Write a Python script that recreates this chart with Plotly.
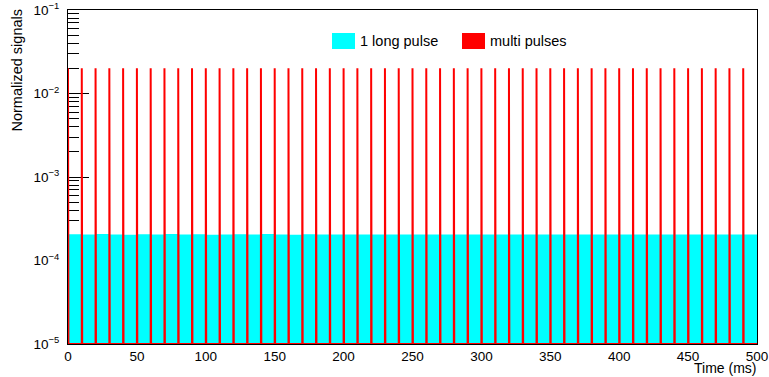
import plotly.graph_objects as go

# ---- data ----
# one long pulse: normalized signal level per 10 ms segment (0..500 ms)
long_edges = list(range(0, 510, 10))
long_values = [2.06e-4, 2.05e-4, 2.07e-4, 2.05e-4, 2.04e-4, 2.06e-4, 2.05e-4, 2.07e-4, 2.05e-4, 2.06e-4,
               2.04e-4, 2.05e-4, 2.06e-4, 2.05e-4, 2.07e-4, 2.05e-4, 2.04e-4, 2.06e-4, 2.05e-4, 2.05e-4,
               2.06e-4, 2.04e-4, 2.05e-4, 2.07e-4, 2.05e-4, 2.06e-4, 2.05e-4, 2.04e-4, 2.06e-4, 2.05e-4,
               2.07e-4, 2.05e-4, 2.06e-4, 2.05e-4, 2.04e-4, 2.06e-4, 2.05e-4, 2.07e-4, 2.05e-4, 2.06e-4,
               2.05e-4, 2.04e-4, 2.06e-4, 2.05e-4, 2.07e-4, 2.05e-4, 2.06e-4, 2.05e-4, 2.04e-4, 2.05e-4]
# multi pulses: times (ms) and normalized height
pulse_times = list(range(0, 500, 10))
pulse_height = 0.02
pulse_width = 0.3
y_floor = 1e-5

x_ticks = [0, 50, 100, 150, 200, 250, 300, 350, 400, 450, 500]
y_major = [1e-5, 1e-4, 1e-3, 1e-2, 1e-1]
y_major_text = ["10<sup>−5</sup>", "10<sup>−4</sup>", "10<sup>−3</sup>", "10<sup>−2</sup>", "10<sup>−1</sup>"]
y_minor = [m * d for d in [1e-5, 1e-4, 1e-3, 1e-2] for m in range(2, 10)]

FONT = "Liberation Sans, Arial, Helvetica, sans-serif"

# ---- build traces ----
cx, cy = [long_edges[0]], [1e-7]
for i, v in enumerate(long_values):
    cx += [long_edges[i], long_edges[i + 1]]
    cy += [v, v]
cx += [long_edges[-1]]
cy += [1e-7]

rx, ry = [0], [y_floor]
for t in pulse_times:
    rx += [t, t, t + pulse_width, t + pulse_width]
    ry += [y_floor, pulse_height, pulse_height, y_floor]
rx += [500]
ry += [y_floor]

fig = go.Figure()
fig.add_trace(go.Scatter(x=cx, y=cy, mode="lines", fill="toself", fillcolor="#00ffff",
                         line=dict(width=0, color="#00ffff"), hoverinfo="skip", showlegend=False))
fig.add_trace(go.Scatter(x=rx, y=ry, mode="lines", line=dict(color="#ff0000", width=2),
                         hoverinfo="skip", showlegend=False, cliponaxis=False))

W, H = 769, 377
L, R, T, B = 68, 757, 10, 344


def px(x):
    return (x - L) / (R - L)


def py(y):
    return (B - y) / (B - T)


fig.update_layout(
    template="none",
    width=W, height=H,
    margin=dict(l=L, r=W - R, t=T, b=H - B, pad=0),
    paper_bgcolor="white", plot_bgcolor="white",
    font=dict(family=FONT, size=14, color="black"),
    showlegend=False,
    xaxis=dict(range=[0, 500], tickvals=x_ticks, ticks="", showgrid=False, zeroline=False, automargin=False,
               showline=True, linecolor="black", linewidth=1, mirror=True, layer="below traces",
               tickfont=dict(size=13.5), ticklabelstandoff=0, ticklabeloverflow="allow"),
    yaxis=dict(type="log", range=[-5, -1], tickvals=y_major, ticktext=y_major_text, automargin=False,
               ticks="inside", ticklen=21, tickwidth=1, tickcolor="black",
               minor=dict(tickvals=y_minor, ticks="inside", ticklen=11, tickwidth=1, tickcolor="black", showgrid=False),
               showgrid=False, zeroline=False, showline=True, linecolor="black", linewidth=1, mirror=True,
               layer="below traces", tickfont=dict(size=13.5), ticklabelstandoff=5, ticklabeloverflow="allow"),
)

shapes = [
    dict(type="rect", xref="paper", yref="paper", x0=px(332), x1=px(355), y0=py(49), y1=py(33),
         fillcolor="#00ffff", line=dict(width=0)),
    dict(type="rect", xref="paper", yref="paper", x0=px(462), x1=px(485), y0=py(49), y1=py(33),
         fillcolor="#ff0000", line=dict(width=0)),
]
annotations = [
    dict(text="1 long pulse", xref="paper", yref="paper", x=px(358), y=py(41), xanchor="left",
         yanchor="middle", showarrow=False, font=dict(size=14.5)),
    dict(text="multi pulses", xref="paper", yref="paper", x=px(488), y=py(41), xanchor="left",
         yanchor="middle", showarrow=False, font=dict(size=14.5)),
    dict(text="Time (ms)", xref="paper", yref="paper", x=px(758), y=py(367.5), xanchor="right",
         yanchor="middle", showarrow=False, font=dict(size=14)),
    dict(text="Normalized signals", xref="paper", yref="paper", x=px(16), y=py(7), xanchor="center",
         yanchor="top", textangle=-90, showarrow=False, font=dict(size=14.5)),
]
fig.update_layout(shapes=shapes, annotations=annotations)

fig.write_html("out.html", config={"displayModeBar": False, "staticPlot": True},
               post_script="document.body.style.margin='0';document.body.style.overflow='hidden';")
